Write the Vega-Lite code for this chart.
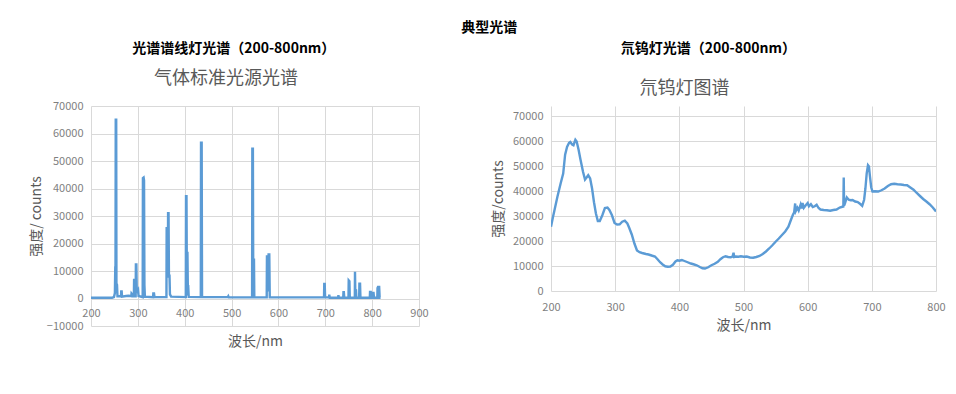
{
  "$schema": "https://vega.github.io/schema/vega-lite/v6.json",
  "background": "white",
  "padding": {"left": 29, "top": 21, "right": 0, "bottom": 0},
  "title": {"text": "典型光谱", "font": "Noto Sans CJK SC", "fontSize": 14, "fontWeight": "bold", "color": "#000000", "anchor": "middle", "frame": "bounds", "offset": 7, "dx": 2},
  "spacing": 62,
  "config": {
    "view": {"stroke": null},
    "axis": {"gridColor": "#d9d9d9", "domain": false, "ticks": false, "labelFlush": false, "labelFont": "Noto Sans CJK SC", "labelColor": "#7f7f7f", "labelFontSize": 11, "titleFont": "Noto Sans CJK SC", "titleFontWeight": "normal", "titleColor": "#595959", "titleFontSize": 14, "labelPadding": 8},
    "line": {"color": "#5B9BD5", "strokeWidth": 2.4}
  },
  "datasets": {
    "lamp": [
      {"nm": 200, "counts": 300}, {"nm": 245, "counts": 300}, {"nm": 249, "counts": 500}, {"nm": 251, "counts": 2000},
      {"nm": 251.8, "counts": 11500}, {"nm": 252.3, "counts": 11800}, {"nm": 252.8, "counts": 65000}, {"nm": 253.8, "counts": 65000},
      {"nm": 254.3, "counts": 5500}, {"nm": 255.5, "counts": 5000}, {"nm": 256.5, "counts": 800}, {"nm": 262, "counts": 800},
      {"nm": 264, "counts": 800}, {"nm": 264.5, "counts": 2600}, {"nm": 265.5, "counts": 2600}, {"nm": 266.2, "counts": 700},
      {"nm": 275, "counts": 900}, {"nm": 280, "counts": 1000}, {"nm": 284, "counts": 900}, {"nm": 286, "counts": 900},
      {"nm": 286.5, "counts": 1800}, {"nm": 287.5, "counts": 1600}, {"nm": 288.2, "counts": 800}, {"nm": 291.5, "counts": 800},
      {"nm": 292, "counts": 7200}, {"nm": 292.6, "counts": 800}, {"nm": 295.3, "counts": 800}, {"nm": 295.8, "counts": 12400},
      {"nm": 296.8, "counts": 12400}, {"nm": 297.6, "counts": 3500}, {"nm": 299, "counts": 2800}, {"nm": 300.5, "counts": 3200},
      {"nm": 301.5, "counts": 900}, {"nm": 310.3, "counts": 500}, {"nm": 310.8, "counts": 43800}, {"nm": 312.3, "counts": 44000},
      {"nm": 313.2, "counts": 43000}, {"nm": 314, "counts": 5000}, {"nm": 315, "counts": 700}, {"nm": 332.5, "counts": 500},
      {"nm": 333, "counts": 1800}, {"nm": 334.5, "counts": 1800}, {"nm": 335.5, "counts": 500}, {"nm": 361, "counts": 500},
      {"nm": 361.5, "counts": 26000}, {"nm": 362.5, "counts": 8000}, {"nm": 364, "counts": 8000}, {"nm": 364.5, "counts": 31000},
      {"nm": 365.5, "counts": 31000}, {"nm": 366.3, "counts": 8700}, {"nm": 367.5, "counts": 8500}, {"nm": 368.5, "counts": 1500},
      {"nm": 371, "counts": 700}, {"nm": 402.3, "counts": 500}, {"nm": 402.8, "counts": 37200}, {"nm": 403.8, "counts": 37200},
      {"nm": 404.7, "counts": 1500}, {"nm": 405.3, "counts": 1500}, {"nm": 405.8, "counts": 17000}, {"nm": 406.6, "counts": 4500},
      {"nm": 407.5, "counts": 4500}, {"nm": 408.5, "counts": 600}, {"nm": 434.3, "counts": 500}, {"nm": 434.8, "counts": 56700},
      {"nm": 436.2, "counts": 56700}, {"nm": 437, "counts": 500}, {"nm": 492, "counts": 500}, {"nm": 493, "counts": 800},
      {"nm": 494, "counts": 400}, {"nm": 543.8, "counts": 400}, {"nm": 544.3, "counts": 54500}, {"nm": 545.5, "counts": 54500},
      {"nm": 546.3, "counts": 2000}, {"nm": 547.3, "counts": 2000}, {"nm": 547.8, "counts": 14500}, {"nm": 548.5, "counts": 400},
      {"nm": 575, "counts": 400}, {"nm": 575.5, "counts": 15300}, {"nm": 577, "counts": 15300}, {"nm": 578, "counts": 3000},
      {"nm": 578.5, "counts": 3000}, {"nm": 579, "counts": 16000}, {"nm": 580.5, "counts": 16000}, {"nm": 581.5, "counts": 400},
      {"nm": 697.3, "counts": 400}, {"nm": 697.8, "counts": 5300}, {"nm": 698.8, "counts": 5300}, {"nm": 699.6, "counts": 400},
      {"nm": 708, "counts": 400}, {"nm": 708.5, "counts": 1400}, {"nm": 709.5, "counts": 300}, {"nm": 727.5, "counts": 300},
      {"nm": 728, "counts": 1200}, {"nm": 729, "counts": 300}, {"nm": 738.3, "counts": 300}, {"nm": 738.8, "counts": 2300},
      {"nm": 739.6, "counts": 2300}, {"nm": 740.5, "counts": 300}, {"nm": 749.5, "counts": 300}, {"nm": 750, "counts": 6600},
      {"nm": 751.5, "counts": 6300}, {"nm": 752.3, "counts": 300}, {"nm": 763, "counts": 300}, {"nm": 763.4, "counts": 9700},
      {"nm": 764.2, "counts": 400}, {"nm": 765, "counts": 400}, {"nm": 765.5, "counts": 3300}, {"nm": 766.3, "counts": 300},
      {"nm": 772.3, "counts": 300}, {"nm": 772.8, "counts": 5400}, {"nm": 774.2, "counts": 5400}, {"nm": 775, "counts": 300},
      {"nm": 795, "counts": 300}, {"nm": 795.5, "counts": 2400}, {"nm": 797, "counts": 2400}, {"nm": 798, "counts": 300},
      {"nm": 800.5, "counts": 300}, {"nm": 801, "counts": 2000}, {"nm": 803, "counts": 2000}, {"nm": 804, "counts": 300},
      {"nm": 811, "counts": 300}, {"nm": 811.5, "counts": 3800}, {"nm": 812.5, "counts": 4200}, {"nm": 815, "counts": 4200},
      {"nm": 816, "counts": 300}, {"nm": 818, "counts": 300}
    ],
    "dw": [
      {"nm": 200, "counts": 25700}, {"nm": 203, "counts": 29500}, {"nm": 206, "counts": 33000}, {"nm": 210, "counts": 37700},
      {"nm": 215, "counts": 43000}, {"nm": 219, "counts": 47000}, {"nm": 222, "counts": 54500}, {"nm": 225, "counts": 57600},
      {"nm": 228, "counts": 59200}, {"nm": 230, "counts": 59600}, {"nm": 233, "counts": 58600}, {"nm": 235, "counts": 58300},
      {"nm": 238, "counts": 60500}, {"nm": 240, "counts": 59800}, {"nm": 243, "counts": 56500}, {"nm": 246, "counts": 52500},
      {"nm": 250, "counts": 47600}, {"nm": 253, "counts": 44600}, {"nm": 256, "counts": 45600}, {"nm": 258, "counts": 46300},
      {"nm": 261, "counts": 45000}, {"nm": 264, "counts": 41000}, {"nm": 267, "counts": 35500}, {"nm": 270, "counts": 31000},
      {"nm": 273, "counts": 28000}, {"nm": 276, "counts": 28000}, {"nm": 280, "counts": 30300}, {"nm": 284, "counts": 33200},
      {"nm": 288, "counts": 33400}, {"nm": 291, "counts": 32400}, {"nm": 295, "counts": 30300}, {"nm": 299, "counts": 27200},
      {"nm": 303, "counts": 26600}, {"nm": 307, "counts": 26700}, {"nm": 311, "counts": 27700}, {"nm": 315, "counts": 28100},
      {"nm": 319, "counts": 27000}, {"nm": 322, "counts": 25200}, {"nm": 326, "counts": 22500}, {"nm": 330, "counts": 19000},
      {"nm": 334, "counts": 16200}, {"nm": 338, "counts": 15500}, {"nm": 342, "counts": 15200}, {"nm": 348, "counts": 14800},
      {"nm": 352, "counts": 14600}, {"nm": 358, "counts": 14100}, {"nm": 362, "counts": 13800}, {"nm": 366, "counts": 12700},
      {"nm": 370, "counts": 11500}, {"nm": 374, "counts": 10600}, {"nm": 378, "counts": 9900}, {"nm": 382, "counts": 9700},
      {"nm": 386, "counts": 9800}, {"nm": 390, "counts": 10500}, {"nm": 394, "counts": 11800}, {"nm": 397, "counts": 12300},
      {"nm": 400, "counts": 12100}, {"nm": 404, "counts": 12400}, {"nm": 408, "counts": 12000}, {"nm": 412, "counts": 11600},
      {"nm": 418, "counts": 11000}, {"nm": 422, "counts": 10700}, {"nm": 427, "counts": 10300}, {"nm": 432, "counts": 9600},
      {"nm": 436, "counts": 9100}, {"nm": 440, "counts": 9000}, {"nm": 445, "counts": 9500}, {"nm": 450, "counts": 10300},
      {"nm": 455, "counts": 10900}, {"nm": 460, "counts": 11700}, {"nm": 464, "counts": 12700}, {"nm": 468, "counts": 13500},
      {"nm": 472, "counts": 13900}, {"nm": 476, "counts": 13600}, {"nm": 480, "counts": 13500}, {"nm": 483, "counts": 13800},
      {"nm": 484.5, "counts": 15300}, {"nm": 485.5, "counts": 13600}, {"nm": 488, "counts": 13800}, {"nm": 492, "counts": 13700},
      {"nm": 496, "counts": 13900}, {"nm": 500, "counts": 13700}, {"nm": 505, "counts": 13800}, {"nm": 510, "counts": 13400},
      {"nm": 515, "counts": 13300}, {"nm": 520, "counts": 13600}, {"nm": 525, "counts": 14000}, {"nm": 530, "counts": 14800},
      {"nm": 535, "counts": 15800}, {"nm": 540, "counts": 17000}, {"nm": 545, "counts": 18300}, {"nm": 550, "counts": 19700},
      {"nm": 555, "counts": 21000}, {"nm": 560, "counts": 22400}, {"nm": 565, "counts": 23800}, {"nm": 570, "counts": 25700},
      {"nm": 574, "counts": 28500}, {"nm": 577, "counts": 30500}, {"nm": 579, "counts": 31500}, {"nm": 580.5, "counts": 35000},
      {"nm": 581.5, "counts": 32000}, {"nm": 584, "counts": 33300}, {"nm": 586, "counts": 32200}, {"nm": 589, "counts": 34500},
      {"nm": 590.5, "counts": 33000}, {"nm": 592, "counts": 35200}, {"nm": 594, "counts": 33300}, {"nm": 597, "counts": 34300},
      {"nm": 600, "counts": 35200}, {"nm": 602, "counts": 33900}, {"nm": 605, "counts": 34700}, {"nm": 608, "counts": 33600},
      {"nm": 611, "counts": 33900}, {"nm": 614, "counts": 34500}, {"nm": 617, "counts": 33200}, {"nm": 620, "counts": 32600},
      {"nm": 625, "counts": 32400}, {"nm": 630, "counts": 32300}, {"nm": 635, "counts": 32100}, {"nm": 640, "counts": 32400},
      {"nm": 645, "counts": 32600}, {"nm": 650, "counts": 33400}, {"nm": 654, "counts": 33700}, {"nm": 655.6, "counts": 33800},
      {"nm": 656.2, "counts": 45400}, {"nm": 656.8, "counts": 34200}, {"nm": 658, "counts": 35000}, {"nm": 661, "counts": 37400},
      {"nm": 664, "counts": 36500}, {"nm": 667, "counts": 36300}, {"nm": 670, "counts": 36400}, {"nm": 674, "counts": 35800},
      {"nm": 678, "counts": 35600}, {"nm": 682, "counts": 34800}, {"nm": 685, "counts": 34100}, {"nm": 688, "counts": 36500},
      {"nm": 690, "counts": 41000}, {"nm": 692, "counts": 47000}, {"nm": 694, "counts": 50300}, {"nm": 695.5, "counts": 49800},
      {"nm": 697, "counts": 46000}, {"nm": 699, "counts": 41500}, {"nm": 701, "counts": 39800}, {"nm": 705, "counts": 39900},
      {"nm": 710, "counts": 39800}, {"nm": 715, "counts": 40300}, {"nm": 720, "counts": 41000}, {"nm": 725, "counts": 42000},
      {"nm": 730, "counts": 42700}, {"nm": 735, "counts": 42900}, {"nm": 740, "counts": 42700}, {"nm": 745, "counts": 42600},
      {"nm": 750, "counts": 42400}, {"nm": 755, "counts": 42300}, {"nm": 760, "counts": 41400}, {"nm": 765, "counts": 40500},
      {"nm": 770, "counts": 39200}, {"nm": 775, "counts": 38000}, {"nm": 780, "counts": 36800}, {"nm": 785, "counts": 35800},
      {"nm": 790, "counts": 34700}, {"nm": 795, "counts": 33400}, {"nm": 800, "counts": 31800}
    ]
  },
  "hconcat": [
    {
      "title": {"text": "光谱谱线灯光谱（200-800nm）", "font": "Noto Sans CJK SC", "fontSize": 14, "fontWeight": "bold", "color": "#000000", "anchor": "middle", "frame": "bounds", "offset": 14, "dx": 5},
      "vconcat": [
        {
          "title": {"text": "气体标准光源光谱", "font": "Noto Sans CJK SC", "fontSize": 18, "fontWeight": "normal", "color": "#595959", "anchor": "middle", "frame": "group", "offset": 12, "dx": -29},
          "width": 328,
          "height": 220,
          "data": {"name": "lamp"},
          "mark": {"type": "line", "clip": true},
          "encoding": {
            "x": {"field": "nm", "type": "quantitative", "scale": {"domain": [200, 900], "nice": false, "zero": false},
              "axis": {"title": "波长/nm", "values": [200, 300, 400, 500, 600, 700, 800, 900], "format": "d", "offset": -27.5, "labelPadding": 9, "titlePadding": 16}},
            "y": {"field": "counts", "type": "quantitative", "scale": {"domain": [-10000, 70000], "nice": false, "zero": false},
              "axis": {"title": "强度/ counts", "values": [-10000, 0, 10000, 20000, 30000, 40000, 50000, 60000, 70000], "format": "d", "titlePadding": 3}}
          }
        }
      ]
    },
    {
      "title": {"text": "氘钨灯光谱（200-800nm）", "font": "Noto Sans CJK SC", "fontSize": 14, "fontWeight": "bold", "color": "#000000", "anchor": "middle", "frame": "bounds", "offset": 24, "dx": -10},
      "vconcat": [
        {
          "title": {"text": "氘钨灯图谱", "font": "Noto Sans CJK SC", "fontSize": 18, "fontWeight": "normal", "color": "#595959", "anchor": "middle", "frame": "group", "offset": 8, "dx": -59},
          "width": 385,
          "height": 185,
          "data": {"name": "dw"},
          "mark": {"type": "line", "clip": true},
          "encoding": {
            "x": {"field": "nm", "type": "quantitative", "scale": {"domain": [200, 800], "nice": false, "zero": false},
              "axis": {"title": "波长/nm", "values": [200, 300, 400, 500, 600, 700, 800], "format": "d", "labelPadding": 10, "titlePadding": 6}},
            "y": {"field": "counts", "type": "quantitative", "scale": {"domain": [0, 74000], "nice": false, "zero": false},
              "axis": {"title": "强度/counts", "values": [0, 10000, 20000, 30000, 40000, 50000, 60000, 70000], "format": "d", "titlePadding": 7}}
          }
        }
      ]
    }
  ]
}
